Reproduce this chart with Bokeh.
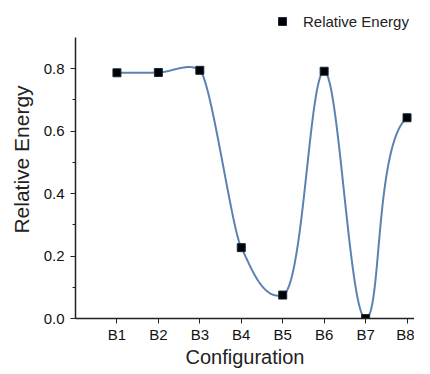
import numpy as np
from bokeh.plotting import figure
from bokeh.models import Range1d, FixedTicker, Legend, LegendItem, ColumnDataSource, PrintfTickFormatter
from bokeh.embed import file_html
from bokeh.resources import INLINE

configs = ["B1", "B2", "B3", "B4", "B5", "B6", "B7", "B8"]
positions = [1, 2, 3, 4, 5, 6, 7, 8]
energy = [0.787, 0.788, 0.795, 0.227, 0.075, 0.792, 0.0, 0.643]
y_ticks = [0.0, 0.2, 0.4, 0.6, 0.8]
y_minor = [0.1, 0.3, 0.5, 0.7]

# smooth parametric Hermite curve through the points (rendering of the connecting line)
def smooth_curve(xs, ys, sx=41.4, sy=312.0, n=60):
    P = np.column_stack([np.asarray(xs, float) * sx, np.asarray(ys, float) * sy])
    k = len(P)
    D = np.diff(P, axis=0)
    L = np.hypot(D[:, 0], D[:, 1])
    U = D / L[:, None]
    T = np.zeros_like(P)
    for i in range(1, k - 1):
        d = U[i - 1] + U[i]
        d = d / np.linalg.norm(d)
        mag = min(L[i - 1], L[i], np.linalg.norm(P[i + 1] - P[i - 1]) / 2)
        T[i] = d * mag
    def end_tangent(chord_u, nb_t, length):
        ca = np.arctan2(chord_u[1], chord_u[0])
        na = np.arctan2(nb_t[1], nb_t[0])
        a = (ca + na) / 2
        return np.array([np.cos(a), np.sin(a)]) * 0.6 * length
    T[0] = end_tangent(U[0], T[1], L[0])
    T[-1] = end_tangent(U[-1], T[-2], L[-1])
    out = []
    t = np.linspace(0, 1, n)[:, None]
    h00 = 2 * t**3 - 3 * t**2 + 1; h10 = t**3 - 2 * t**2 + t
    h01 = -2 * t**3 + 3 * t**2; h11 = t**3 - t**2
    for i in range(k - 1):
        out.append(h00 * P[i] + h10 * T[i] + h01 * P[i + 1] + h11 * T[i + 1])
    C = np.vstack(out)
    return list(C[:, 0] / sx), list(C[:, 1] / sy)

cx, cy = smooth_curve(positions, energy)

p = figure(width=414, height=370, output_backend="svg", toolbar_location=None,
           x_range=Range1d(0, 8.18), y_range=Range1d(0, 1.0186),
           min_border_left=75, min_border_right=0, min_border_top=0, min_border_bottom=50)
p.outline_line_color = None
p.xgrid.visible = False
p.ygrid.visible = False

p.line(cx, cy, line_color="#5b82b0", line_width=2)
src = ColumnDataSource(dict(x=positions, y=energy))
r = p.scatter("x", "y", source=src, marker="square", size=8, fill_color="black", line_color="#1a2a40")

p.xaxis.ticker = FixedTicker(ticks=positions)
p.xaxis.major_label_overrides = {pos: c for pos, c in zip(positions, configs)}
p.yaxis.ticker = FixedTicker(ticks=y_ticks, minor_ticks=y_minor)
p.yaxis.formatter = PrintfTickFormatter(format="%.1f")
p.yaxis.bounds = (0, 0.9)

for ax in (p.xaxis[0], p.yaxis[0]):
    ax.axis_line_color = "#222222"
    ax.axis_line_width = 1.5
    ax.major_tick_line_color = "#222222"
    ax.minor_tick_line_color = "#222222"
    ax.major_tick_out = 5
    ax.major_tick_in = 0
    ax.minor_tick_out = 3
    ax.minor_tick_in = 0
    ax.major_label_text_font = "Liberation Sans"
    ax.major_label_text_font_size = "15px"
    ax.major_label_text_color = "#111111"
    ax.axis_label_text_font = "Liberation Sans"
    ax.axis_label_text_font_style = "normal"
    ax.axis_label_text_color = "#222222"
p.xaxis.major_label_standoff = 2
p.yaxis.major_label_standoff = 6
p.xaxis.minor_tick_line_color = None
p.xaxis.axis_label = "Configuration"
p.yaxis.axis_label = "Relative Energy"
p.xaxis.axis_label_text_font_size = "20px"
p.yaxis.axis_label_text_font_size = "21px"
p.xaxis.axis_label_standoff = 0
p.yaxis.axis_label_standoff = 8

legend = Legend(items=[LegendItem(label="Relative Energy", renderers=[r])],
                location=(197, 287), border_line_color=None, background_fill_alpha=0,
                label_text_font="Liberation Sans", label_text_font_size="15px",
                label_text_color="#222222", label_standoff=11, glyph_width=20,
                padding=0, margin=0)
p.add_layout(legend)

open("out.html", "w").write(file_html(p, INLINE))
